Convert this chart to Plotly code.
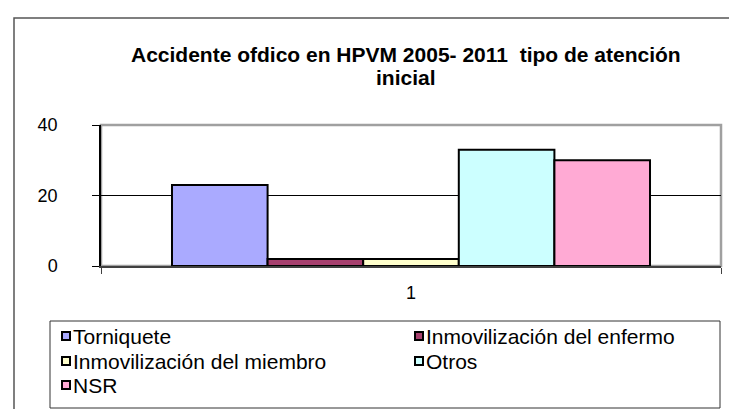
import plotly.graph_objects as go

categories = ["1"]
series_names = ["Torniquete", "Inmovilización del enfermo", "Inmovilización del miembro", "Otros", "NSR"]
series_values = [[23], [2], [2], [33], [30]]
series_colors = ["#AAAAFF", "#A6406E", "#FFFFCC", "#CCFFFF", "#FFAAD4"]
y_ticks = [0, 20, 40]
title_lines = ["Accidente ofdico en HPVM 2005- 2011  tipo de atención", "inicial"]

W, H = 737, 409
L, R, T, B = 93, 713, 117, 258   # plot area in pixels

def px(x):
    return (x - L) / (R - L)

def py(y):
    return (B - y) / (B - T)

fig = go.Figure()
for name, vals, col in zip(series_names, series_values, series_colors):
    fig.add_trace(go.Bar(
        x=[1], y=vals, name=name,
        marker=dict(color=col, line=dict(color="black", width=2)),
        showlegend=False,
    ))

font = "Liberation Sans, Arial, sans-serif"
shapes = []
annotations = []

# outer frame
shapes.append(dict(type="rect", xref="paper", yref="paper",
                   x0=px(6), x1=px(760), y0=py(430), y1=py(10),
                   line=dict(color="#555555", width=1.5), layer="below"))
# plot area border (gray)
shapes.append(dict(type="rect", xref="paper", yref="paper",
                   x0=0, x1=1, y0=0, y1=1,
                   line=dict(color="#A0A0A0", width=2.5), layer="below"))
# legend box
shapes.append(dict(type="rect", xref="paper", yref="paper",
                   x0=px(42), x1=px(712), y0=py(400), y1=py(313),
                   line=dict(color="#333333", width=1)))

# manual legend entries
col_x = [58, 411]
row_y = [328, 353, 377]
for i, (name, col) in enumerate(zip(series_names, series_colors)):
    cx = col_x[i % 2]
    cy = row_y[i // 2]
    shapes.append(dict(type="rect", xref="paper", yref="paper",
                       x0=px(cx - 4), x1=px(cx + 4), y0=py(cy + 4), y1=py(cy - 4),
                       fillcolor=col, line=dict(color="black", width=2)))
    annotations.append(dict(text=name, xref="paper", yref="paper",
                            x=px(cx + 5), y=py(cy), xanchor="left", yanchor="middle",
                            showarrow=False, font=dict(family=font, size=21, color="black")))

# title
for j, line in enumerate(title_lines):
    annotations.append(dict(text="<b>%s</b>" % line, xref="paper", yref="paper",
                            x=px(398), y=py(46 + 23 * j), xanchor="center", yanchor="middle",
                            showarrow=False, font=dict(family=font, size=21, color="black")))

fig.update_layout(
    width=W, height=H,
    margin=dict(l=L, r=W - R, t=T, b=H - B, pad=0),
    paper_bgcolor="white", plot_bgcolor="white",
    barmode="group", bargap=0.229, bargroupgap=0,
    shapes=shapes, annotations=annotations,
    font=dict(family=font, size=18, color="black"),
    xaxis=dict(range=[0.5, 1.5], tickvals=[1], ticktext=categories,
               showgrid=False, zeroline=False,
               showline=True, linecolor="#404040", linewidth=1.5,
               ticks="", ticklabelstandoff=10,
               minor=dict(tickvals=[0.5, 1.5], ticks="outside", ticklen=6,
                          tickcolor="#404040", showgrid=False),
               tickfont=dict(family=font, size=18)),
    yaxis=dict(range=[0, 40], tickvals=y_ticks, showgrid=False, zeroline=False,
               showline=True, linecolor="black", linewidth=1.5,
               ticks="outside", ticklen=7, tickcolor="black",
               ticklabelstandoff=31,
               minor=dict(tickvals=[20], showgrid=True, gridcolor="black", gridwidth=1, ticks=""),
               tickfont=dict(family=font, size=18)),
)

fig.write_html("out.html")
